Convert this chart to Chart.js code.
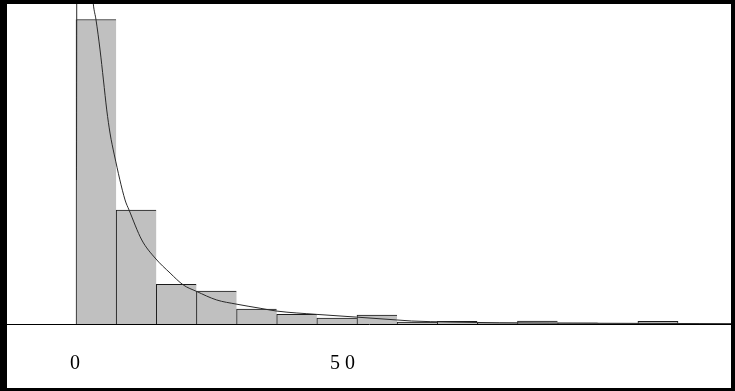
<!DOCTYPE html>
<html>
<head>
<meta charset="utf-8">
<script src="https://cdn.jsdelivr.net/npm/chart.js@4.4.1/dist/chart.umd.min.js"></script>
<style>
  html, body { margin: 0; padding: 0; background: #fff; }
  .frame {
    position: absolute; left: 0; top: 0;
    width: 735px; height: 391px; box-sizing: border-box;
    border: solid #000; border-width: 4px 4px 3px 7px;
  }
  .frame canvas { display: block; }
</style>
</head>
<body>
<div class="frame"><canvas id="hist" width="724" height="384"></canvas></div>
<script>
// histogram bins (width 7.5), counts
var binCenters = [3.75, 11.25, 18.75, 26.25, 33.75, 41.25, 48.75, 56.25, 63.75, 71.25, 78.75, 86.25, 93.75, 101.25, 108.75];
var binCounts = [203, 76, 26.5, 22, 10, 6.5, 4, 6, 1.3, 1.7, 0.7, 2, 0.7, 0.3, 1.7];

// fitted density curve
var curveX = [0.09, 0.2, 3.23, 3.74, 4.49, 5.12, 5.74, 6.35, 7.16, 9.16, 9.91, 12.29, 14.77, 17.57, 20.06, 22.48, 26.3, 29.9, 34.4, 37.56, 45.0, 52.4, 59.9, 62.7, 69.9, 79.2, 97.9, 116.6, 122.4];
var curveY = [96, 350, 213.3, 202.7, 182.7, 162.7, 142.7, 127.3, 112.7, 82.7, 76, 56, 44, 34, 26, 21.8, 16, 13.3, 10.5, 8.6, 6.4, 4.6, 2.7, 2.0, 1.3, 0.8, 0.5, 0.3, 0.25];

var xTicks = [0, 50];

(function () {
  var lastBin = binCenters.length - 1;

  var ctx = document.getElementById('hist').getContext('2d');
  new Chart(ctx, {
    type: 'bar',
    data: {
      datasets: [{
        type: 'line',
        data: curveX.map(function (x, i) { return { x: x, y: curveY[i] }; }),
        borderColor: '#2a2a2a',
        borderWidth: 1,
        pointRadius: 0,
        cubicInterpolationMode: 'monotone',
        fill: false,
        order: 0
      }, {
        type: 'bar',
        data: binCenters.map(function (x, i) { return { x: x, y: binCounts[i] }; }),
        backgroundColor: '#c0c0c0',
        borderColor: '#1a1a1a',
        borderWidth: function (c) {
          return { top: 1, left: 1, right: c.dataIndex === lastBin ? 1 : 0, bottom: 0 };
        },
        barPercentage: 1,
        categoryPercentage: 1,
        order: 1
      }]
    },
    options: {
      responsive: false,
      animation: false,
      layout: { padding: 0 },
      plugins: { legend: { display: false }, tooltip: { enabled: false } },
      scales: {
        x: {
          type: 'linear',
          min: -12.9,
          max: 122.4,
          offset: false,
          grid: { display: false, drawTicks: false, offset: false },
          border: { display: true, color: '#000', width: 1 },
          afterBuildTicks: function (scale) {
            scale.ticks = xTicks.map(function (v) { return { value: v }; });
          },
          afterFit: function (scale) { scale.height = 64; },
          ticks: {
            padding: 28,
            labelOffset: -1,
            color: '#000',
            autoSkip: false,
            maxRotation: 0,
            font: { family: '"Liberation Serif", "DejaVu Serif", serif', size: 20 },
            callback: function (value) { return String(value).split('').join(' '); }
          }
        },
        y: { display: false, min: 0, max: 213.33 }
      }
    }
  });
})();
</script>
</body>
</html>
